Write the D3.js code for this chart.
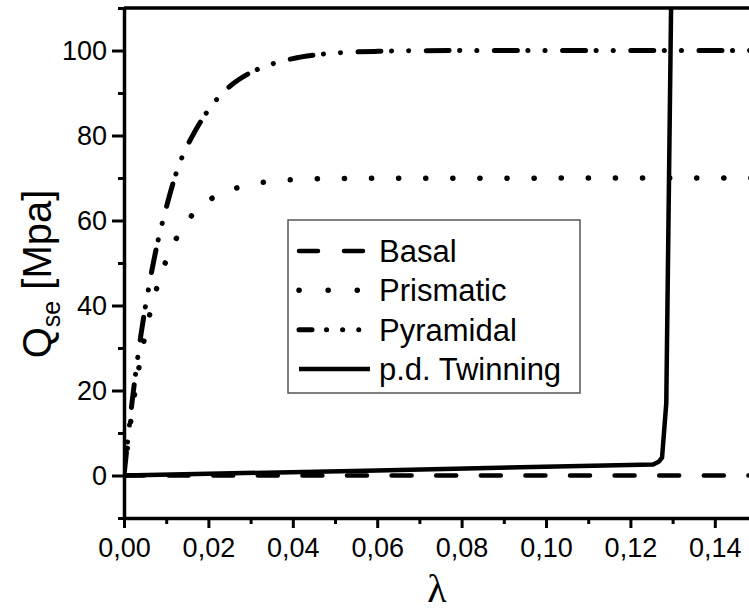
<!DOCTYPE html>
<html>
<head>
<meta charset="utf-8">
<script src="https://cdn.jsdelivr.net/npm/d3@7"></script>
<style>
  body { margin: 0; background: #fff; }
  svg { display: block; }
  text { font-family: "Liberation Sans", Arial, sans-serif; fill: #000; }
</style>
</head>
<body>
<svg id="chart" width="749" height="610"></svg>
<script>
// values (lambda, Q_se in MPa)
const basal = [[0, 0], [0.05, 0], [0.1, 0], [0.15, 0]];

const prismatic = [
  [0, 0], [0.002, 15.7], [0.004, 27.9], [0.006, 37.5], [0.008, 44.9],
  [0.010, 50.6], [0.012, 55], [0.014, 58.5], [0.016, 61.1], [0.018, 63.2],
  [0.020, 64.7], [0.025, 67.1], [0.030, 68.5], [0.035, 69.2], [0.040, 69.6],
  [0.050, 69.9], [0.150, 70]
];

const pyramidal = [
  [0, 0], [0.002, 18], [0.004, 33], [0.006, 45], [0.008, 55],
  [0.010, 63], [0.012, 70], [0.014, 75.5], [0.016, 79.5], [0.018, 83],
  [0.020, 86], [0.025, 91.5], [0.030, 94.8], [0.035, 96.8], [0.040, 98.1],
  [0.045, 98.9], [0.050, 99.4], [0.060, 99.8], [0.080, 100], [0.150, 100]
];

const twinning = [
  [0, 0], [0.06, 1.2], [0.1254, 2.6], [0.1268, 3.3], [0.1275, 4.2],
  [0.1285, 17], [0.1297, 115]
];

const xTicks = [0, 0.02, 0.04, 0.06, 0.08, 0.10, 0.12, 0.14];
const yTicks = [0, 20, 40, 60, 80, 100];
const legendNames = ['Basal', 'Prismatic', 'Pyramidal', 'p.d. Twinning'];

const svg = d3.select('#chart');

const x = d3.scaleLinear().domain([0, 0.15]).range([124, 757]);
const y = d3.scaleLinear().domain([-10, 110]).range([518, 8]);

svg.append('clipPath').attr('id', 'plotclip')
  .append('rect')
  .attr('x', x(0)).attr('y', y(110))
  .attr('width', x(0.15) - x(0)).attr('height', y(-10) - y(110));

// series styles
const series = [
  { data: basal, width: 4.5, dash: '20,24.6', legendDash: '19,26' },
  { data: prismatic, width: 5.5, dash: '0.1,27', legendDash: '0.1,29' },
  { data: pyramidal, width: 5, dash: '23,10.5,0.1,17,0.1,17.5', legendDash: '13,14.5,0.1,16,0.1,16,0.1,40' },
  { data: twinning, width: 4.5, dash: null, legendDash: null }
];

const smooth = d3.line()
  .x(d => x(d[0]))
  .y(d => y(d[1]))
  .curve(d3.curveMonotoneX);
const straight = d3.line()
  .x(d => x(d[0]))
  .y(d => y(d[1]));

const plot = svg.append('g').attr('clip-path', 'url(#plotclip)');
series.forEach(s => {
  plot.append('path')
    .datum(s.data)
    .attr('d', s.data === twinning ? straight(s.data) : smooth(s.data))
    .attr('fill', 'none')
    .attr('stroke', '#000')
    .attr('stroke-width', s.width)
    .attr('stroke-linecap', 'round')
    .attr('stroke-linejoin', 'round')
    .attr('stroke-dasharray', s.dash);
});

// axes
const fmt = v => d3.format('.2f')(v).replace('.', ',');

const xAxis = svg.append('g').attr('transform', `translate(0,${y(-10)})`)
  .call(d3.axisBottom(x).tickValues(xTicks).tickSize(10).tickPadding(10).tickFormat(fmt));
const xMinor = svg.append('g').attr('transform', `translate(0,${y(-10)})`)
  .call(d3.axisBottom(x).tickValues(d3.range(0.01, 0.15, 0.02)).tickSize(6).tickFormat(''));

const yAxis = svg.append('g').attr('transform', `translate(${x(0)},0)`)
  .call(d3.axisLeft(y).tickValues(yTicks).tickSize(12).tickPadding(5));
const yMinor = svg.append('g').attr('transform', `translate(${x(0)},0)`)
  .call(d3.axisLeft(y).tickValues(d3.range(-10, 111, 20)).tickSize(6).tickFormat(''));

[xAxis, xMinor, yAxis, yMinor].forEach(g => {
  g.select('.domain').attr('stroke-width', 3.5).attr('stroke', '#000');
  g.selectAll('.tick line').attr('stroke-width', 3).attr('stroke', '#000');
  g.selectAll('.tick text').attr('font-size', 27).attr('font-family', '"Liberation Sans", Arial, sans-serif');
});
xMinor.select('.domain').remove();
yMinor.select('.domain').remove();
xAxis.select('.domain').attr('d', `M${x(0)},0.5H749`);
yAxis.select('.domain').attr('d', `M0.5,${y(-10)}V${y(110)}`);

// top frame
svg.append('line')
  .attr('x1', x(0)).attr('x2', 749)
  .attr('y1', y(110)).attr('y2', y(110))
  .attr('stroke', '#000').attr('stroke-width', 3.5);

// axis titles
svg.append('text')
  .attr('x', 437).attr('y', 602)
  .attr('text-anchor', 'middle')
  .attr('font-size', 40)
  .style('font-family', '"Liberation Serif", "Times New Roman", serif')
  .text('λ');

const yLabel = svg.append('text')
  .attr('transform', 'translate(51,274) rotate(-90)')
  .attr('text-anchor', 'middle')
  .attr('font-size', 40);
yLabel.append('tspan').text('Q');
yLabel.append('tspan').attr('font-size', 25).attr('dy', 9).text('se');
yLabel.append('tspan').attr('dy', -9).text(' [Mpa]');

// legend
const legend = svg.append('g');
legend.append('rect')
  .attr('x', 288).attr('y', 220)
  .attr('width', 292).attr('height', 173)
  .attr('fill', '#fff')
  .attr('stroke', '#555').attr('stroke-width', 1.5);

const rowY = d3.scalePoint().domain(legendNames).range([251, 369]);
series.forEach((s, i) => {
  const yy = rowY(legendNames[i]);
  legend.append('line')
    .attr('x1', 299).attr('x2', 370)
    .attr('y1', yy).attr('y2', yy)
    .attr('stroke', '#000')
    .attr('stroke-width', s.width)
    .attr('stroke-linecap', s.legendDash ? 'round' : 'butt')
    .attr('stroke-dasharray', s.legendDash);
  legend.append('text')
    .attr('x', 379).attr('y', yy)
    .attr('dy', '0.36em')
    .attr('font-size', 31)
    .text(legendNames[i]);
});
</script>
</body>
</html>
